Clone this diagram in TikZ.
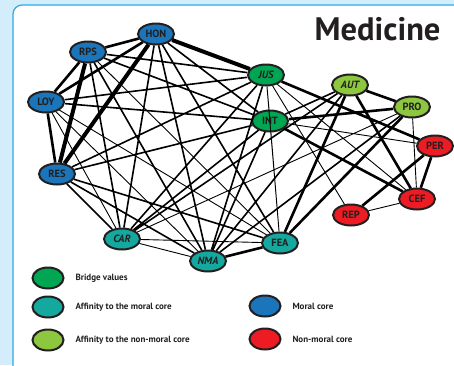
\documentclass[tikz,border=0pt]{standalone}
\usepackage{fontspec}
\setmainfont{PT Sans}
\usetikzlibrary{shapes.geometric}

\definecolor{paleblue}{HTML}{D3EEFA}
\definecolor{frameblue}{HTML}{29ABE2}
\definecolor{outline}{HTML}{231F20}
\definecolor{moral}{HTML}{1B75BB}
\definecolor{bridge}{HTML}{00A651}
\definecolor{affmoral}{HTML}{14A89E}
\definecolor{affnon}{HTML}{8DC63F}
\definecolor{nonmoral}{HTML}{ED1C24}

\tikzset{
	value/.style={ellipse,draw=outline,line width=2pt,minimum width=36pt,minimum height=21pt,
		inner sep=0pt,font=\fontsize{10.5}{11}\selectfont\bfseries,text=outline},
	slanted/.style={font=\fontsize{10.5}{11}\selectfont\bfseries\itshape},
	legendbox/.style={ellipse,draw=outline,line width=2pt,minimum width=31pt,minimum height=21pt,inner sep=0pt},
	legendtext/.style={anchor=west,font=\fontsize{9}{10}\selectfont\bfseries,text=outline},
	thinedge/.style={line width=0.9pt},
	midedge/.style={line width=1.6pt},
	thickedge/.style={line width=2.6pt},
	heavyedge/.style={line width=4pt}
}

\begin{document}
\begin{tikzpicture}[x=1pt,y=-1pt]
	\useasboundingbox (0,0) rectangle (454,365);
	% Frame
	\fill[paleblue] (0,0) rectangle (454,365);
	\draw[frameblue,fill=white,line width=1.2pt,rounded corners=9pt] (13,5) rectangle (480,385);

	\node[anchor=base east,font=\fontsize{32.5}{34}\selectfont\bfseries,text=outline] (title) at (444,40) {Medicine};

	% Moral core
	\node[value,fill=moral] (hon) at (156,34) {HON};
	\node[value,fill=moral] (rps) at (88,52) {RPS};
	\node[value,fill=moral] (loy) at (46,102) {LOY};
	\node[value,fill=moral] (res) at (57,174) {RES};
	% Bridge values
	\node[value,fill=bridge,slanted] (jus) at (266,75) {JUS};
	\node[value,fill=bridge] (int) at (270,121) {INT};
	% Affinity to the moral core
	\node[value,fill=affmoral,slanted] (car) at (122,239) {CAR};
	\node[value,fill=affmoral,slanted] (nma) at (208,261) {NMA};
	\node[value,fill=affmoral] (fea) at (280,243) {FEA};
	% Affinity to the non-moral core
	\node[value,fill=affnon,slanted] (aut) at (350,85) {AUT};
	\node[value,fill=affnon] (pro) at (412,107) {PRO};
	% Non-moral core
	\node[value,fill=nonmoral] (per) at (435,146) {PER};
	\node[value,fill=nonmoral] (cef) at (417,199) {CEF};
	\node[value,fill=nonmoral] (rep) at (351,215) {REP};

	% Links
	\draw[heavyedge] (hon) -- (res) (hon) -- (jus) (rps) -- (res);
	\draw[thickedge] (hon) -- (rps) (hon) -- (loy) (rps) -- (loy) (loy) -- (res)
		(jus) -- (per) (int) -- (pro) (int) -- (cef) (aut) -- (pro) (aut) -- (cef)
		(pro) -- (fea) (per) -- (cef) (per) -- (rep) (nma) -- (fea) (aut) -- (fea);
	\draw[midedge] (rps) -- (jus) (rps) -- (int) (rps) -- (car) (rps) -- (nma)
		(loy) -- (jus) (loy) -- (int) (res) -- (jus) (res) -- (int) (res) -- (car) (res) -- (nma)
		(hon) -- (int) (hon) -- (car) (hon) -- (nma) (hon) -- (fea)
		(jus) -- (car) (jus) -- (nma) (int) -- (aut) (int) -- (car) (int) -- (nma)
		(aut) -- (car) (aut) -- (nma) (pro) -- (nma) (res) -- (fea);
	\draw[thinedge] (rps) -- (fea) (loy) -- (car) (loy) -- (nma) (loy) -- (fea)
		(jus) -- (fea) (jus) -- (cef) (jus) -- (rep) (int) -- (per) (int) -- (fea)
		(pro) -- (cef) (pro) -- (car) (cef) -- (rep)
		(car) -- (nma) (car) -- (fea) (jus) -- (int);

	% Legend
	\node[legendbox,fill=bridge] (keybridge) at (48,278) {};
	\node[legendtext] (txtbridge) at (72,278) {Bridge values};
	\node[legendbox,fill=affmoral] (keyaffmoral) at (48,307) {};
	\node[legendtext] (txtaffmoral) at (72,307) {Affinity to the moral core};
	\node[legendbox,fill=affnon] (keyaffnon) at (48,340) {};
	\node[legendtext] (txtaffnon) at (72,340) {Affinity to the non-moral core};
	\node[legendbox,fill=moral] (keymoral) at (265,306) {};
	\node[legendtext] (txtmoral) at (289,306) {Moral core};
	\node[legendbox,fill=nonmoral] (keynonmoral) at (265,339) {};
	\node[legendtext] (txtnonmoral) at (289,339) {Non-moral core};
\end{tikzpicture}
\end{document}
